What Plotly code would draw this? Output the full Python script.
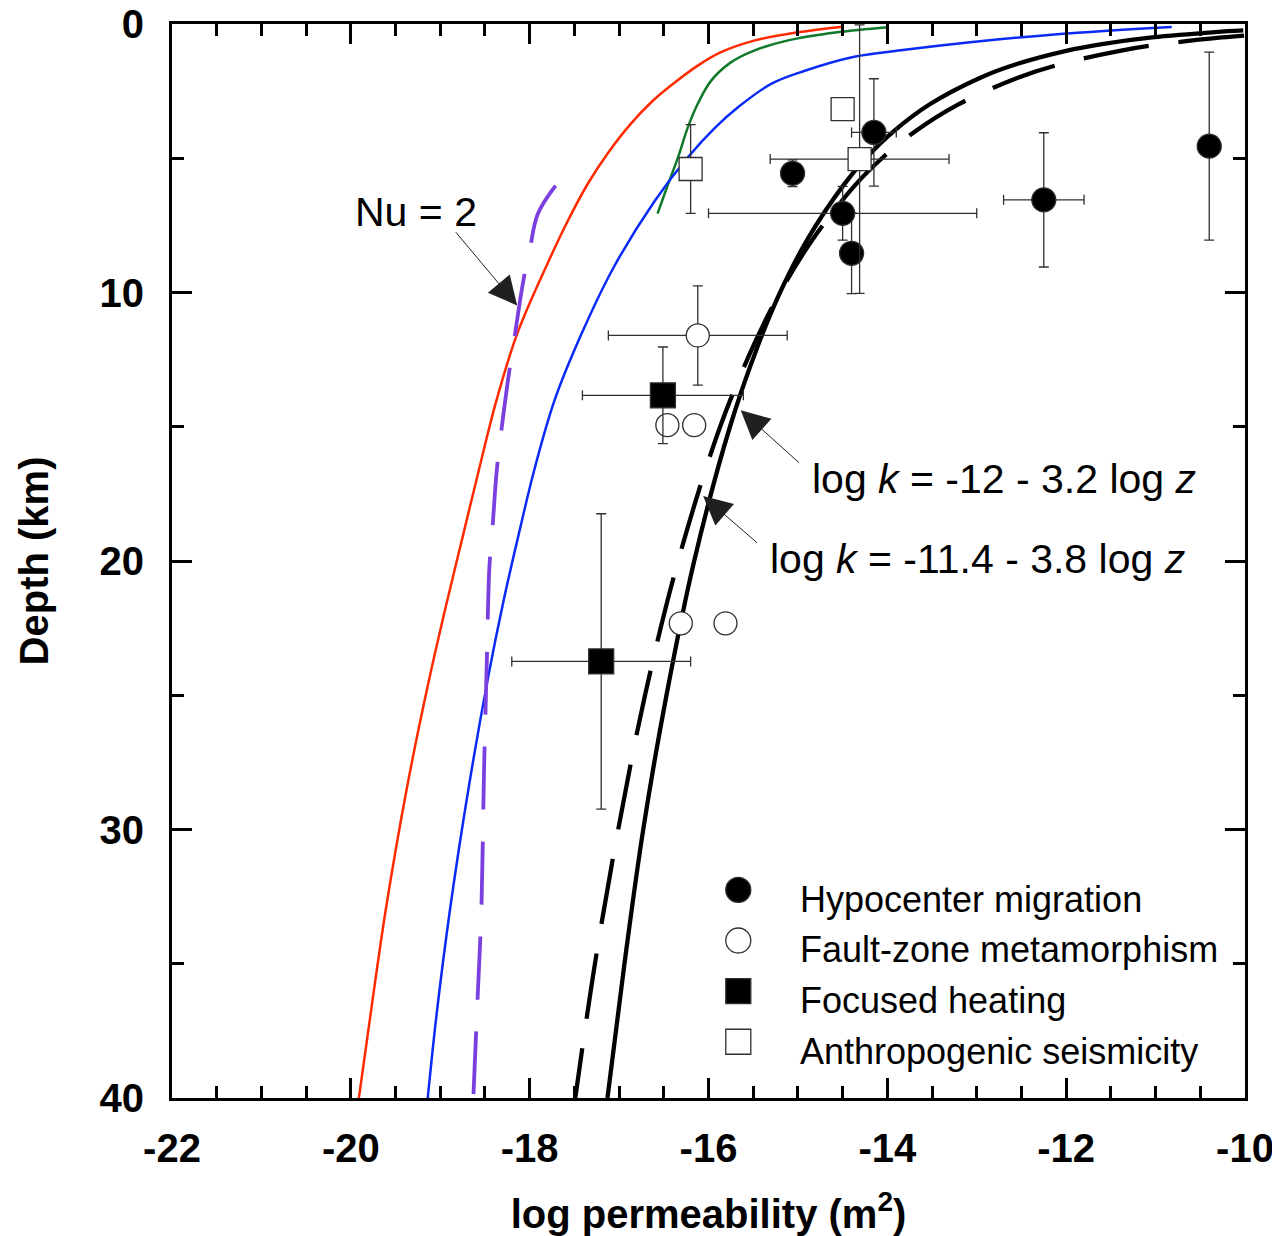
import plotly.graph_objects as go

# ---------------- data ----------------
# model curves (depth in km, log permeability in m^2)
red_depth = [0.10, 0.31, 0.62, 1.05, 1.55, 2.29, 2.85, 3.72, 4.83, 5.95, 7.31, 8.92, 11.54, 14.0, 16.5, 18.97, 21.45, 24.5, 28.4, 33.0, 36.9, 40.0]
red_logk = [-14.50, -15.0, -15.49, -15.86, -16.12, -16.42, -16.62, -16.87, -17.13, -17.35, -17.57, -17.80, -18.14, -18.37, -18.56, -18.74, -18.92, -19.13, -19.37, -19.61, -19.78, -19.91]

green_depth = [0.12, 0.31, 0.62, 0.99, 1.43, 2.11, 2.97, 3.84, 4.96, 5.95, 7.06]
green_logk = [-14.0, -14.56, -15.12, -15.49, -15.75, -15.97, -16.12, -16.23, -16.34, -16.45, -16.57]

blue_depth = [0.11, 0.38, 0.69, 0.98, 1.22, 1.75, 2.23, 3.10, 3.84, 4.96, 6.58, 9.06, 11.54, 14.0, 16.5, 18.97, 21.45, 24.25, 28.4, 32.96, 36.86, 40.0]
blue_logk = [-10.82, -12.1, -13.1, -13.85, -14.37, -14.93, -15.30, -15.67, -15.92, -16.23, -16.60, -17.06, -17.42, -17.72, -17.94, -18.12, -18.29, -18.46, -18.68, -18.89, -19.04, -19.14]

nu2_depth = [6.02, 7.08, 8.44, 9.55, 11.9, 13.2, 15.5, 16.7, 18.97, 20.2, 23.86, 27.76, 32.96, 36.86, 40.0]
nu2_logk = [-17.71, -17.91, -18.0, -18.07, -18.18, -18.24, -18.33, -18.37, -18.42, -18.45, -18.48, -18.51, -18.54, -18.59, -18.63]

# log k = -12 - 3.2 log z
fitA_depth = [0.24, 0.3, 0.5, 0.75, 1, 1.5, 2, 3, 4, 5, 6, 8, 10, 12, 15, 20, 25, 30, 35, 40]
fitA_logk = [-10.02, -10.33, -11.04, -11.60, -12.0, -12.56, -12.96, -13.53, -13.93, -14.24, -14.49, -14.89, -15.2, -15.45, -15.76, -16.16, -16.47, -16.73, -16.94, -17.13]

# log k = -11.4 - 3.8 log z
fitB_depth = [0.43, 0.5, 0.75, 1, 1.5, 2, 3, 4, 5, 6, 8, 10, 12, 15, 20, 25, 30, 35, 40]
fitB_logk = [-10.01, -10.26, -10.93, -11.4, -12.07, -12.54, -13.21, -13.69, -14.06, -14.36, -14.83, -15.2, -15.50, -15.87, -16.34, -16.71, -17.01, -17.27, -17.49]

# observations
hypo_logk = [-14.15, -15.06, -14.50, -14.40, -12.25, -10.40]
hypo_depth = [4.04, 5.56, 7.05, 8.54, 6.55, 4.55]
hypo_ex = [0.25, None, 1.5, None, 0.45, None]
hypo_ey = [2.0, 0.5, 1.0, 1.5, 2.5, 3.5]

fault_logk = [-16.12, -16.46, -16.16, -16.31, -15.81]
fault_depth = [11.6, 14.94, 14.94, 22.32, 22.32]
fault_ex = [1.0, None, None, None, None]
fault_ey = [1.85, None, None, None, None]

heat_logk = [-16.51, -17.20]
heat_depth = [13.83, 23.74]
heat_ex = [0.9, 1.0]
heat_ey = [1.8, 5.5]

anthro_logk = [-14.50, -14.31, -16.20]
anthro_depth = [3.17, 5.03, 5.40]
anthro_ex = [None, 1.0, None]
anthro_ey = [None, 5.0, 1.65]

legend_labels = ["Hypocenter migration", "Fault-zone metamorphism", "Focused heating", "Anthropogenic seismicity"]

x_tickvals = [-22, -20, -18, -16, -14, -12, -10]
x_ticktext = ["-22", "-20", "-18", "-16", "-14", "-12", "-10"]
y_tickvals = [0, 10, 20, 30, 40]
y_ticktext = ["0", "10", "20", "30", "40"]

# ---------------- figure ----------------
FONT = "Liberation Sans, Arial, sans-serif"
fig = go.Figure()

def curve(xs, ys, color, width, dash="solid"):
    fig.add_trace(go.Scatter(x=xs, y=ys, mode="lines",
                             line=dict(color=color, width=width, dash=dash, shape="spline", smoothing=1.0),
                             hoverinfo="skip", showlegend=False))

curve(red_logk, red_depth, "#FF2A00", 2.5)
curve(green_logk, green_depth, "#107A2A", 2.5)
curve(blue_logk, blue_depth, "#0A2AF5", 2.5)
curve(nu2_logk, nu2_depth, "#7B3FE0", 3.8, "63px,32px")
curve(fitB_logk, fitB_depth, "black", 4.3, "66px,30px")
curve(fitA_logk, fitA_depth, "black", 4.3)

EB = dict(color="#303030", thickness=1.3, width=5)

def pts(xs, ys, ex, ey, symbol, fill, size):
    fig.add_trace(go.Scatter(
        x=xs, y=ys, mode="markers",
        marker=dict(symbol=symbol, size=size, color=fill, line=dict(color="#303030", width=1.3)),
        error_x=dict(type="data", array=ex, arrayminus=ex, symmetric=False, **EB),
        error_y=dict(type="data", array=ey, arrayminus=ey, symmetric=False, **EB),
        hoverinfo="skip", showlegend=False))

pts(hypo_logk, hypo_depth, hypo_ex, hypo_ey, "circle", "black", 24)
pts(fault_logk, fault_depth, fault_ex, fault_ey, "circle", "white", 23)
pts(heat_logk, heat_depth, heat_ex, heat_ey, "square", "black", 25)
pts(anthro_logk, anthro_depth, anthro_ex, anthro_ey, "square", "white", 23)

# legend (drawn manually to allow large symbols)
leg_styles = [("circle", "black"), ("circle", "white"), ("square", "black"), ("square", "white")]
leg_x = -15.667
leg_y0 = 32.25
leg_step = 1.885
leg_text_x = -15.0
for i, (lab, (sym, fill)) in enumerate(zip(legend_labels, leg_styles)):
    yy = leg_y0 + i * leg_step
    fig.add_trace(go.Scatter(x=[leg_x], y=[yy], mode="markers",
                             marker=dict(symbol=sym, size=25, color=fill, line=dict(color="#303030", width=1.3)),
                             hoverinfo="skip", showlegend=False))
    fig.add_annotation(x=leg_text_x, y=yy + 0.35, xref="x", yref="y", text=lab, showarrow=False,
                       xanchor="left", yanchor="middle", font=dict(family=FONT, size=36, color="black"))

# text annotations
ann_font = dict(family=FONT, size=41, color="black")
fig.add_annotation(x=-19.98, y=6.99, xref="x", yref="y", text="Nu = 2", showarrow=False,
                   xanchor="left", yanchor="middle", font=ann_font)
fig.add_annotation(x=-14.87, y=16.95, xref="x", yref="y", text="log <i>k</i> = -12 - 3.2 log <i>z</i>", showarrow=False,
                   xanchor="left", yanchor="middle", font=ann_font)
fig.add_annotation(x=-15.33, y=19.93, xref="x", yref="y", text="log <i>k</i> = -11.4 - 3.8 log <i>z</i>", showarrow=False,
                   xanchor="left", yanchor="middle", font=ann_font)

def arrow(tip_x, tip_y, tail_x, tail_y):
    fig.add_annotation(x=tip_x, y=tip_y, ax=tail_x, ay=tail_y, xref="x", yref="y", axref="x", ayref="y",
                       text="", showarrow=True, arrowhead=2, arrowsize=5.7, arrowwidth=1,
                       arrowcolor="#202020", standoff=0, startstandoff=0)

arrow(-18.14, 10.48, -18.84, 7.70)
arrow(-15.64, 14.39, -14.97, 16.39)
arrow(-16.06, 17.58, -15.44, 19.37)

# page body has an 8 px margin, so the figure is 8 px smaller than the window
fig.update_layout(
    width=1272, height=1228, template="none",
    margin=dict(l=164, r=35, t=16, b=138, pad=0),
    paper_bgcolor="white", plot_bgcolor="white",
    showlegend=False,
    font=dict(family=FONT, color="black"),
)

common = dict(ticks="inside", ticklen=20, tickwidth=3, tickcolor="black",
              showline=True, linewidth=3, linecolor="black", mirror="ticks",
              showgrid=False, zeroline=False, automargin=False,
              ticklabeloverflow="allow",
              tickfont=dict(family=FONT, size=40, color="black", weight="bold"))

fig.update_xaxes(range=[-22, -10], tickmode="array", tickvals=x_tickvals, ticktext=x_ticktext,
                 minor=dict(dtick=0.5, tick0=-22, ticks="inside", ticklen=12, tickwidth=2.5, tickcolor="black"),
                 ticklabelstandoff=13,
                 title=dict(text="log permeability (m<sup>2</sup>)", standoff=31,
                            font=dict(family=FONT, size=40, color="black", weight="bold")),
                 **common)
fig.update_yaxes(range=[40, 0], tickmode="array", tickvals=y_tickvals, ticktext=y_ticktext,
                 minor=dict(dtick=5, tick0=0, ticks="inside", ticklen=12, tickwidth=2.5, tickcolor="black"),
                 ticklabelstandoff=17,
                 title=dict(text="Depth (km)", standoff=39,
                            font=dict(family=FONT, size=40, color="black", weight="bold")),
                 **common)

fig.write_html("out.html")
